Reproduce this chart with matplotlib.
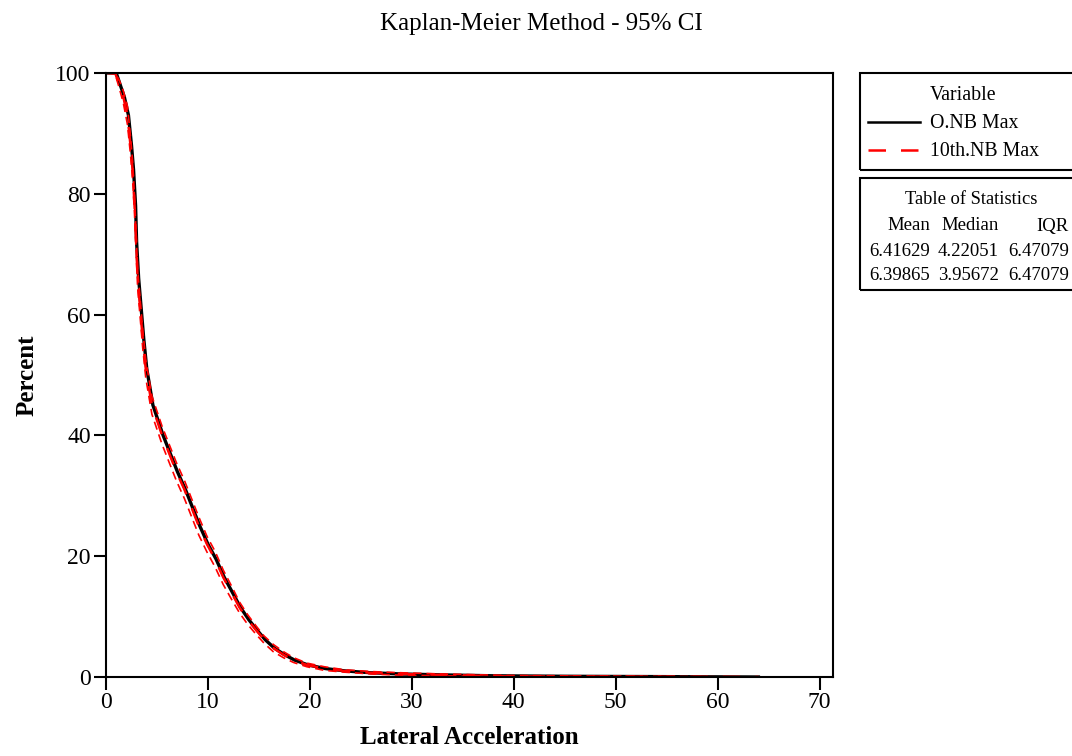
import matplotlib.pyplot as plt
from matplotlib.lines import Line2D
from matplotlib.patches import Rectangle

plt.rcParams['font.family'] = ['Liberation Serif', 'DejaVu Serif']

# Kaplan-Meier survival estimates (x = lateral acceleration, y = percent)
onb_x = [0, 1.0, 1.4, 1.8, 2.2, 2.5, 2.7, 2.9, 3.0, 3.2, 3.4, 3.7, 4.0, 4.2, 4.6, 5.0,
         5.6, 6.3, 7.0, 7.8, 8.5, 9.2, 10.0, 10.8, 11.6, 12.4, 13.2, 14.0, 14.8, 15.6,
         16.5, 17.5, 18.5, 19.8, 21.5, 23.5, 26, 29, 33, 38, 45, 55, 64]
onb_y = [100, 100, 98, 96, 93, 88, 84, 78, 72, 66, 62, 56, 51, 49, 45, 43,
         40, 37, 34, 31, 28, 25, 22, 19.5, 16.5, 14, 11.5, 9.5, 7.8, 6.2,
         4.8, 3.7, 2.8, 2.0, 1.4, 1.0, 0.7, 0.5, 0.35, 0.2, 0.12, 0.06, 0.0]

nb10_x = [0, 0.9, 1.3, 1.7, 2.1, 2.4, 2.6, 2.8, 2.95, 3.1, 3.3, 3.6, 3.9, 4.1, 4.5, 4.9,
          5.5, 6.2, 6.9, 7.7, 8.4, 9.1, 9.9, 10.7, 11.5, 12.3, 13.1, 13.9, 14.7, 15.5,
          16.4, 17.4, 18.4, 19.7, 21.4, 23.4, 26, 29, 33, 39.5, 64]
nb10_y = [100, 100, 98, 96, 93, 88, 84, 78, 72, 66, 62, 56, 51, 49, 45, 43,
          40, 37, 34, 31, 28, 25, 22, 19.5, 16.5, 14, 11.5, 9.5, 7.8, 6.2,
          4.8, 3.7, 2.8, 2.0, 1.4, 1.0, 0.7, 0.5, 0.35, 0.1, 0.0]
nb10_lo = [100, 99.8, 97.5, 95, 91.5, 86.5, 82.5, 76.5, 70.5, 64.5, 60.5, 54.5, 49.5, 47.5, 43.5, 41.5,
           38.5, 35.5, 32.5, 29.5, 26.5, 23.5, 20.7, 18.2, 15.3, 12.9, 10.6, 8.7, 7.1, 5.6,
           4.2, 3.2, 2.4, 1.7, 1.1, 0.8, 0.5, 0.3, 0.2, 0.0, 0.0]
nb10_hi = [100, 100, 98.8, 97, 94.5, 89.5, 85.5, 79.5, 73.5, 67.5, 63.5, 57.5, 52.5, 50.5, 46.5, 44.5,
           41.5, 38.5, 35.5, 32.5, 29.5, 26.5, 23.3, 20.8, 17.7, 15.1, 12.4, 10.3, 8.5, 6.8,
           5.4, 4.2, 3.2, 2.3, 1.7, 1.2, 0.9, 0.7, 0.5, 0.25, 0.0]

labels = ['O.NB Max', '10th.NB Max']
stat_cols = ['Mean', 'Median', 'IQR']
stats = [['6.41629', '4.22051', '6.47079'],
         ['6.39865', '3.95672', '6.47079']]

fig = plt.figure(figsize=(10.72, 7.56), dpi=100)
ax = fig.add_axes([0.0989, 0.1045, 0.678, 0.799])

dash = (0, (7, 6))
ax.plot(onb_x, onb_y, color='black', lw=2.4)
ax.plot(nb10_x, nb10_lo, color='red', lw=1.2, ls=(0, (5, 3)))
ax.plot(nb10_x, nb10_hi, color='red', lw=1.2, ls=(0, (5, 3)))
ax.plot(nb10_x, nb10_y, color='red', lw=1.8, ls=dash)

ax.set_xlim(0, 71.3)
ax.set_ylim(0, 100)
ax.set_xticks(range(0, 71, 10))
ax.set_yticks(range(0, 101, 20))
ax.tick_params(direction='out', length=9, width=1.5, labelsize=17, pad=2)
for s in ax.spines.values():
    s.set_linewidth(1.5)
ax.set_xlabel('Lateral Acceleration', fontsize=18, fontweight='bold', labelpad=9)
ax.set_ylabel('Percent', fontsize=18, fontweight='bold', labelpad=12)
fig.text(0.505, 0.968, 'Kaplan-Meier Method - 95% CI', ha='center', va='center', fontsize=18)

# legend box (clipped at the right edge like the original)
W, H = 1072, 756
def fx(px):
    return px / W
def fy(py):
    return 1 - py / H

fig.add_artist(Rectangle((fx(860), fy(170)), fx(260), fy(73) - fy(170),
                         transform=fig.transFigure, fill=False, lw=1.5, ec='black'))
fig.text(fx(963), fy(95), 'Variable', ha='center', va='center', fontsize=14.3)
fig.add_artist(Line2D([fx(868), fx(920)], [fy(122), fy(122)], transform=fig.transFigure,
                      color='black', lw=1.8))
fig.add_artist(Line2D([fx(868), fx(920)], [fy(150), fy(150)], transform=fig.transFigure,
                      color='red', lw=1.8, ls=dash))
fig.text(fx(930), fy(123), labels[0], ha='left', va='center', fontsize=14.3)
fig.text(fx(930), fy(151), labels[1], ha='left', va='center', fontsize=14.3)

fig.add_artist(Rectangle((fx(860), fy(290)), fx(260), fy(178) - fy(290),
                         transform=fig.transFigure, fill=False, lw=1.5, ec='black'))
fig.text(fx(971), fy(200), 'Table of Statistics', ha='center', va='center', fontsize=13.3)
col_right = [930, 999, 1069]
for c, name in zip(col_right, stat_cols):
    fig.text(fx(c), fy(226), name, ha='right', va='center', fontsize=13.5)
for r, row in enumerate(stats):
    for c, val in zip(col_right, row):
        fig.text(fx(c), fy(251 + 25 * r), val, ha='right', va='center', fontsize=13.5)

fig.savefig('out.png', dpi=100)
